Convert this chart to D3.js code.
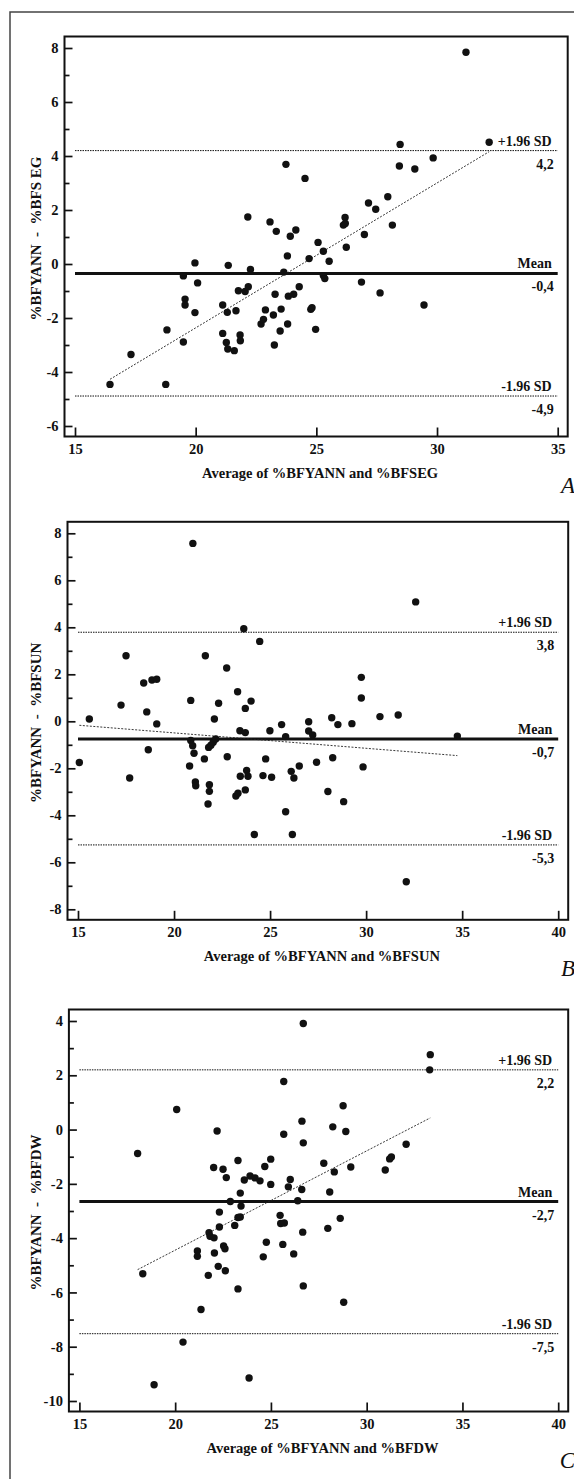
<!DOCTYPE html>
<html>
<head>
<meta charset="utf-8">
<script src="https://cdn.jsdelivr.net/npm/d3@7"></script>
<style>
body { margin: 0; background: #fff; }
svg text { font-family: "Liberation Serif", "Times New Roman", serif; }
</style>
</head>
<body>
<div id="chart"></div>
<script>
const w = 574;
const h = 1479;

// panel A - %BFYANN vs %BFSEG
const avgA = [16.45, 17.32, 18.76, 18.81, 19.49, 19.49, 19.56, 19.56, 19.97, 20.08, 19.97, 21.12, 21.12, 21.31, 21.27, 21.33, 21.35, 21.60, 21.67, 21.77,
  21.84, 21.85, 22.05, 22.18, 22.16, 22.27, 22.71, 22.81, 22.89, 23.08, 23.29, 23.22, 23.26, 23.34, 23.50, 23.54, 23.65, 23.74, 23.80, 23.81,
  23.84, 23.92, 24.06, 24.15, 24.29, 24.53, 31.20, 32.16, 28.47, 28.44, 29.08, 29.84, 27.96, 27.16, 27.46, 26.19, 26.12, 26.20, 28.15, 26.99,
  25.07, 26.24, 25.29, 24.70, 25.53, 25.29, 25.35, 26.87, 27.64, 29.46, 24.77, 24.82, 24.97];
const diffA = [-4.46, -3.35, -4.46, -2.44, -2.89, -0.44, -1.30, -1.52, 0.04, -0.70, -1.80, -1.52, -2.57, -1.79, -2.91, -3.15, -0.05, -3.21, -1.73, -0.99,
  -2.63, -2.84, -1.02, -0.84, 1.74, -0.20, -2.22, -2.05, -1.70, 1.56, -1.12, -1.89, -3.00, 1.21, -2.48, -1.67, -0.30, 3.69, 0.30, -2.22,
  -1.19, 1.03, -1.12, 1.26, -0.84, 3.17, 7.84, 4.51, 4.43, 3.63, 3.52, 3.93, 2.49, 2.26, 2.03, 1.72, 1.44, 1.50, 1.44, 1.09,
  0.80, 0.62, 0.47, 0.20, 0.10, -0.43, -0.54, -0.67, -1.07, -1.52, -1.68, -1.62, -2.42];
const fitA = [[16.45, -4.27], [32.16, 4.16]];
const limitsA = [4.2, -0.35, -4.89];
const limitTextA = ["4,2", "-0,4", "-4,9"];

// panel B - %BFYANN vs %BFSUN
const avgB = [15.07, 15.59, 17.24, 17.50, 17.69, 18.42, 18.58, 18.66, 18.85, 19.10, 19.10, 20.81, 20.87, 20.87, 20.97, 21.04, 21.11, 21.13, 21.58, 21.63,
  21.77, 21.84, 21.84, 21.80, 21.92, 22.04, 22.17, 22.10, 22.32, 22.74, 22.77, 23.22, 23.33, 23.31, 23.43, 23.45, 23.63, 23.71, 23.71, 23.78,
  23.71, 23.85, 24.01, 24.18, 24.46, 24.77, 24.63, 24.99, 25.08, 25.60, 25.81, 25.81, 26.10, 26.24, 26.16, 26.52, 32.58, 29.75, 29.75, 27.01,
  27.01, 27.22, 28.21, 28.53, 29.26, 30.72, 31.67, 34.75, 27.42, 28.26, 29.84, 28.01, 28.83, 32.09, 20.98];
const diffB = [-1.75, 0.10, 0.69, 2.79, -2.41, 1.63, 0.40, -1.21, 1.76, 1.79, -0.11, -1.90, 0.89, -0.82, -1.04, -1.36, -2.58, -2.74, -1.60, 2.79,
  -3.52, -2.70, -2.98, -1.11, -1.02, -0.89, -0.75, 0.10, 0.77, 2.27, -1.51, -3.18, -3.06, 1.26, -0.40, -2.34, 3.94, 0.55, -0.48, -2.09,
  -2.92, -2.34, 0.86, -4.82, 3.40, -1.60, -2.31, -0.40, -2.38, -0.14, -0.65, -3.85, -2.13, -2.41, -4.82, -1.90, 5.08, 1.87, 0.99, -0.02,
  -0.41, -0.58, 0.15, -0.14, -0.10, 0.20, 0.27, -0.63, -1.74, -1.55, -1.94, -2.99, -3.42, -6.83, 7.57];
const fitB = [[15.07, -0.17], [34.75, -1.46]];
const limitsB = [3.79, -0.75, -5.26];
const limitTextB = ["3,8", "-0,7", "-5,3"];

// panel C - %BFYANN vs %BFDW
const avgC = [18.04, 18.31, 18.90, 20.08, 20.41, 21.16, 21.16, 21.35, 21.73, 21.77, 21.82, 22.01, 22.03, 22.05, 22.19, 22.25, 22.31, 22.31, 22.50, 22.53,
  22.60, 22.62, 22.67, 22.88, 23.11, 23.28, 23.28, 23.28, 23.40, 23.40, 23.44, 23.61, 23.86, 23.91, 24.17, 24.43, 24.60, 24.68, 24.76, 24.99,
  24.99, 25.67, 25.67, 25.48, 25.51, 25.70, 25.62, 26.01, 25.91, 26.19, 26.40, 26.62, 26.61, 26.69, 26.66, 26.69, 26.69, 33.32, 33.29, 28.77,
  28.23, 28.91, 32.06, 27.76, 31.29, 31.20, 30.97, 29.17, 28.31, 28.07, 28.62, 27.97, 28.80];
const diffC = [-0.88, -5.31, -9.40, 0.74, -7.83, -4.47, -4.67, -6.63, -5.37, -3.80, -3.93, -1.40, -3.99, -4.55, -0.05, -5.04, -3.04, -3.59, -1.46, -4.29,
  -4.39, -5.20, -1.77, -2.65, -3.53, -1.14, -5.87, -3.24, -2.34, -3.22, -2.82, -1.86, -9.15, -1.71, -1.78, -1.89, -4.69, -1.36, -4.15, -1.09,
  -2.02, 1.77, -0.17, -3.16, -3.46, -3.44, -4.23, -1.84, -2.11, -4.58, -2.62, 0.31, -2.21, -0.49, -3.78, -5.76, 3.91, 2.76, 2.20, 0.88,
  0.10, -0.07, -0.54, -1.24, -1.01, -1.08, -1.49, -1.38, -1.56, -2.30, -3.27, -3.64, -6.36];
const fitC = [[18.04, -5.16], [33.32, 0.43]];
const limitsC = [2.2, -2.65, -7.52];
const limitTextC = ["2,2", "-2,7", "-7,5"];

const limitNames = ["+1.96 SD", "Mean", "-1.96 SD"];

const panels = [
  {avg: avgA, diff: diffA, fit: fitA, limits: limitsA, limitText: limitTextA, letter: "A",
   xTitle: "Average of %BFYANN and %BFSEG", yTitle: "%BFYANN  -  %BFS EG",
   xDomain: [15, 35], yDomain: [-6, 8], xRange: [75, 557.7], yRange: [426, 48]},
  {avg: avgB, diff: diffB, fit: fitB, limits: limitsB, limitText: limitTextB, letter: "B",
   xTitle: "Average of %BFYANN and %BFSUN", yTitle: "%BFYANN  -  %BFSUN",
   xDomain: [15, 40], yDomain: [-8, 8], xRange: [78, 558.2], yRange: [909.3, 533.3]},
  {avg: avgC, diff: diffC, fit: fitC, limits: limitsC, limitText: limitTextC, letter: "C",
   xTitle: "Average of %BFYANN and %BFDW", yTitle: "%BFYANN  -  %BFDW",
   xDomain: [15, 40], yDomain: [-10, 4], xRange: [79.4, 558.2], yRange: [1401, 1021]}
];

const svg = d3.select("#chart")
  .append("svg")
  .attr("width", w)
  .attr("height", h);

// outer box, right and bottom run off the page
svg.append("rect")
  .attr("x", 10)
  .attr("y", 12)
  .attr("width", w + 20)
  .attr("height", h + 20)
  .attr("fill", "none")
  .attr("stroke", "#444")
  .attr("stroke-width", 1.5);

const drawPanel = (p) => {
  const x = d3.scaleLinear().domain(p.xDomain).range(p.xRange);
  const y = d3.scaleLinear().domain(p.yDomain).range(p.yRange);

  const left = p.xRange[0] - 10.5;
  const right = p.xRange[1] + 10;
  const top = p.yRange[1] - 11.5;
  const bottom = p.yRange[0] + 10.5;

  const g = svg.append("g");

  const xTicks = d3.range(p.xDomain[0], p.xDomain[1] + 1, 5);
  const yTicks = d3.range(p.yDomain[0], p.yDomain[1] + 1, 2);
  const yMinor = d3.range(p.yDomain[0] + 1, p.yDomain[1], 2);

  const yAxis = d3.axisLeft(y).tickValues(yTicks).tickSize(-8).tickPadding(6).tickFormat(d => String(d));
  const yMinorAxis = d3.axisLeft(y).tickValues(yMinor).tickSize(-5).tickFormat("");
  const xAxis = d3.axisBottom(x).tickValues(xTicks).tickSize(-9).tickPadding(7).tickFormat(d => String(d));

  const ya = g.append("g").attr("transform", `translate(${left},0)`).call(yAxis);
  const ym = g.append("g").attr("transform", `translate(${left},0)`).call(yMinorAxis);
  const xa = g.append("g").attr("transform", `translate(0,${bottom})`).call(xAxis);

  [ya, ym, xa].forEach(a => {
    a.select(".domain").remove();
    a.selectAll("line").attr("stroke", "#111").attr("stroke-width", 1.7);
    a.selectAll("text")
      .attr("fill", "#111")
      .attr("font-size", 14.5)
      .attr("font-weight", "bold")
      .attr("font-family", "Liberation Serif, serif");
  });

  g.append("rect")
    .attr("x", left)
    .attr("y", top)
    .attr("width", right - left)
    .attr("height", bottom - top)
    .attr("fill", "none")
    .attr("stroke", "#111")
    .attr("stroke-width", 2);

  // limits of agreement and mean
  g.selectAll(".limit")
    .data(p.limits)
    .enter()
    .append("line")
    .attr("class", "limit")
    .attr("x1", x(p.xDomain[0]))
    .attr("x2", x(p.xDomain[1]))
    .attr("y1", d => y(d))
    .attr("y2", d => y(d))
    .attr("stroke", "#111")
    .attr("stroke-width", (d, i) => i === 1 ? 3 : 1)
    .attr("stroke-dasharray", (d, i) => i === 1 ? null : "1.5,1");

  g.selectAll(".limit-name")
    .data(p.limits)
    .enter()
    .append("text")
    .attr("x", x(p.xDomain[1]) - 6)
    .attr("y", d => y(d) - 5)
    .attr("text-anchor", "end")
    .attr("font-size", 14)
    .attr("font-weight", "bold")
    .attr("fill", "#111")
    .text((d, i) => limitNames[i]);

  g.selectAll(".limit-value")
    .data(p.limits)
    .enter()
    .append("text")
    .attr("x", x(p.xDomain[1]) - 4)
    .attr("y", d => y(d) + 18)
    .attr("text-anchor", "end")
    .attr("font-size", 14)
    .attr("font-weight", "bold")
    .attr("fill", "#111")
    .text((d, i) => p.limitText[i]);

  // regression line
  g.append("path")
    .datum(p.fit)
    .attr("d", d3.line().x(d => x(d[0])).y(d => y(d[1])))
    .attr("fill", "none")
    .attr("stroke", "#222")
    .attr("stroke-width", 0.9)
    .attr("stroke-dasharray", "2,1.5");

  g.selectAll(".dot")
    .data(p.avg)
    .enter()
    .append("circle")
    .attr("class", "dot")
    .attr("cx", d => x(d))
    .attr("cy", (d, i) => y(p.diff[i]))
    .attr("r", 3.7)
    .attr("fill", "#111");

  g.append("text")
    .text(p.xTitle)
    .attr("x", (left + right) / 2 + 4)
    .attr("y", bottom + 41)
    .attr("text-anchor", "middle")
    .attr("font-size", 14.5)
    .attr("font-weight", "bold")
    .attr("fill", "#111");

  g.append("text")
    .text(p.yTitle)
    .attr("transform", `translate(41,${(top + bottom) / 2 + 2}) rotate(-90)`)
    .attr("text-anchor", "middle")
    .attr("font-size", 15)
    .attr("font-weight", "bold")
    .attr("fill", "#111")
    .style("white-space", "pre");

  g.append("text")
    .text(p.letter)
    .attr("x", 575)
    .attr("y", bottom + 56)
    .attr("text-anchor", "end")
    .attr("font-size", 23)
    .attr("font-style", "italic")
    .attr("fill", "#111");
};

panels.forEach(drawPanel);
</script>
</body>
</html>
